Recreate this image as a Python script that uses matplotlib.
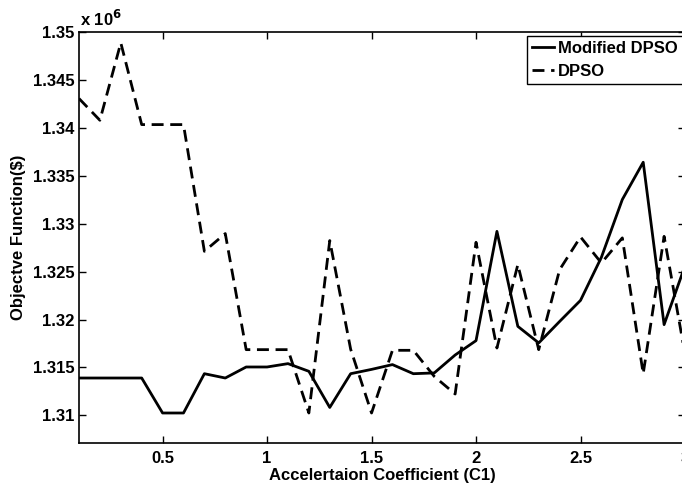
import numpy as np
import matplotlib
matplotlib.use('Agg')
import matplotlib.pyplot as plt

plt.rcParams['font.family'] = ['Liberation Sans', 'DejaVu Sans']
plt.rcParams['font.weight'] = 'bold'

# acceleration coefficient C1
c1 = np.round(np.arange(0.1, 3.01, 0.1), 1)

# objective function values, in units of 1e6 $
modified_dpso = [1.3139, 1.3139, 1.3139, 1.3139, 1.31025, 1.31025, 1.31435, 1.3139, 1.31505, 1.31505,
                 1.3154, 1.3146, 1.31083, 1.31435, 1.3148, 1.3153, 1.31435, 1.31443, 1.3163, 1.3178,
                 1.3292, 1.31929, 1.31756, 1.3198, 1.3220, 1.3265, 1.33252, 1.33641, 1.31947, 1.3256]
dpso = [1.34306, 1.34079, 1.34887, 1.34034, 1.34034, 1.34034, 1.32712, 1.32897, 1.31686, 1.31686,
        1.31686, 1.31025, 1.32824, 1.3169, 1.31025, 1.31679, 1.31679, 1.31407, 1.31223, 1.32806,
        1.31703, 1.32573, 1.31686, 1.3252, 1.32862, 1.3259, 1.32852, 1.31435, 1.32868, 1.3164]

fig = plt.figure(figsize=(6.82, 4.83), dpi=100)
ax = fig.add_axes([79/682, 1 - 443/483, (685 - 79)/682, (443 - 32)/483])

ax.plot(c1, modified_dpso, color='black', lw=2, label='Modified DPSO')
ax.plot(c1, dpso, color='black', lw=2, ls='--', dashes=(4.3, 2.4), label='DPSO')

ax.set_xlim(0.1, 3.0)
ax.set_ylim(1.30712, 1.35)
ax.set_xticks([0.5, 1, 1.5, 2, 2.5, 3])
ax.set_xticklabels(['0.5', '1', '1.5', '2', '2.5', '3'])
ax.set_yticks(np.arange(1.31, 1.3501, 0.005))
ax.set_yticklabels(['1.31', '1.315', '1.32', '1.325', '1.33', '1.335', '1.34', '1.345', '1.35'])
ax.tick_params(direction='in', top=True, right=True, length=5, width=1, labelsize=12, pad=3)
ax.tick_params(axis='x', pad=6)
for s in ax.spines.values():
    s.set_linewidth(1.2)

ax.set_xlabel('Accelertaion Coefficient (C1)', fontsize=12, fontweight='bold', labelpad=1)
ax.set_ylabel('Objectve Function($)', fontsize=12, fontweight='bold', labelpad=5)
fig.text(80/682, 1 - 29/483, r'x 10$^{6}$', fontsize=12, fontweight='bold', ha='left', va='bottom')

leg = ax.legend(loc='upper left', bbox_to_anchor=(527/682, 1 - 36/483), bbox_transform=fig.transFigure,
                fancybox=False, framealpha=1, edgecolor='black', fontsize=12, handlelength=1.3,
                handletextpad=0.25, borderpad=0.3, labelspacing=0.45, borderaxespad=0)
leg.get_frame().set_linewidth(1)

fig.savefig('out.png', dpi=100)
